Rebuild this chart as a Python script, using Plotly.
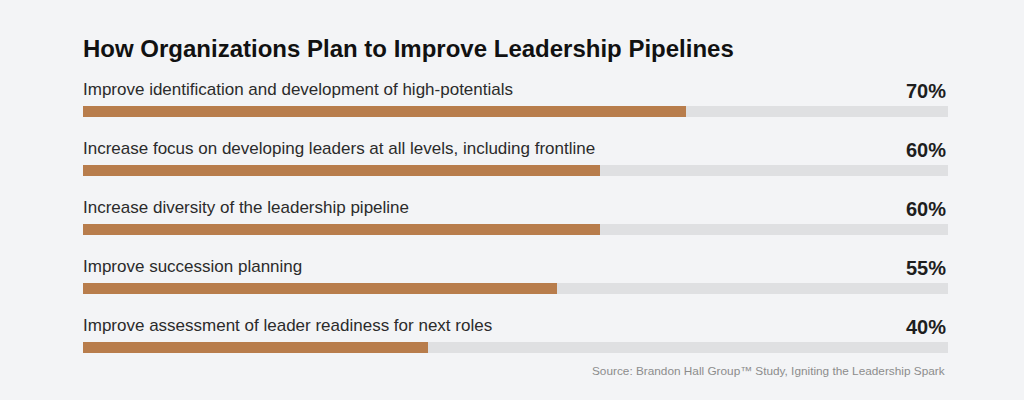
"""Horizontal progress-style bar chart: leadership pipeline plans."""

import plotly.graph_objects as go

TITLE = "How Organizations Plan to Improve Leadership Pipelines"
SOURCE = "Source: Brandon Hall Group\u2122 Study, Igniting the Leadership Spark"

CATEGORIES = [
    "Improve identification and development of high-potentials",
    "Increase focus on developing leaders at all levels, including frontline",
    "Increase diversity of the leadership pipeline",
    "Improve succession planning",
    "Improve assessment of leader readiness for next roles",
]
VALUES = [70, 60, 60, 55, 40]

BG = "#f3f4f6"
BAR_COLOR = "#b87d4c"
TRACK_COLOR = "#dfe0e2"
FONT = "Liberation Sans, Arial, Helvetica, sans-serif"

positions = list(range(len(CATEGORIES)))
bar_width = 0.19

fig = go.Figure(
    go.Bar(
        x=VALUES,
        y=positions,
        orientation="h",
        width=bar_width,
        marker=dict(color=BAR_COLOR, line=dict(width=0)),
        hovertext=CATEGORIES,
        hoverinfo="text+x",
    )
)

# grey track behind each bar
for pos in positions:
    fig.add_shape(
        type="rect",
        xref="paper",
        yref="y",
        x0=0,
        x1=1,
        y0=pos - bar_width / 2,
        y1=pos + bar_width / 2,
        fillcolor=TRACK_COLOR,
        line=dict(width=0),
        layer="below",
    )

for pos, label, value in zip(positions, CATEGORIES, VALUES):
    fig.add_annotation(
        text=label,
        xref="paper",
        yref="y",
        x=0,
        y=pos,
        xanchor="left",
        yanchor="middle",
        xshift=-2,
        yshift=22,
        showarrow=False,
        font=dict(family=FONT, size=17, color="#2b2b2b"),
    )
    fig.add_annotation(
        text=f"<b>{value}%</b>",
        xref="paper",
        yref="y",
        x=1,
        y=pos,
        xanchor="right",
        yanchor="middle",
        xshift=0,
        yshift=21,
        showarrow=False,
        font=dict(family=FONT, size=20, color="#1e1e1e"),
    )

fig.add_annotation(
    text=f"<b>{TITLE}</b>",
    xref="paper",
    yref="paper",
    x=0,
    y=1,
    xanchor="left",
    yanchor="middle",
    xshift=-2,
    yshift=34,
    showarrow=False,
    font=dict(family=FONT, size=24, color="#111111"),
)

fig.add_annotation(
    text=SOURCE,
    xref="paper",
    yref="paper",
    x=1,
    y=0,
    xanchor="right",
    yanchor="middle",
    xshift=-1,
    yshift=6,
    showarrow=False,
    font=dict(family=FONT, size=11.8, color="#8c8c8c"),
)

fig.update_xaxes(range=[0, 100.4], visible=False, fixedrange=True)
fig.update_yaxes(
    range=[len(CATEGORIES) - 0.5, -0.5], visible=False, fixedrange=True
)

fig.update_layout(
    width=1024,
    height=400,
    margin=dict(l=83, r=76, t=82, b=23),
    paper_bgcolor=BG,
    plot_bgcolor=BG,
    showlegend=False,
    bargap=0,
)

fig.write_html(
    "out.html",
    config={"displayModeBar": False},
    post_script="document.body.style.margin='0';document.body.style.overflow='hidden';",
)
